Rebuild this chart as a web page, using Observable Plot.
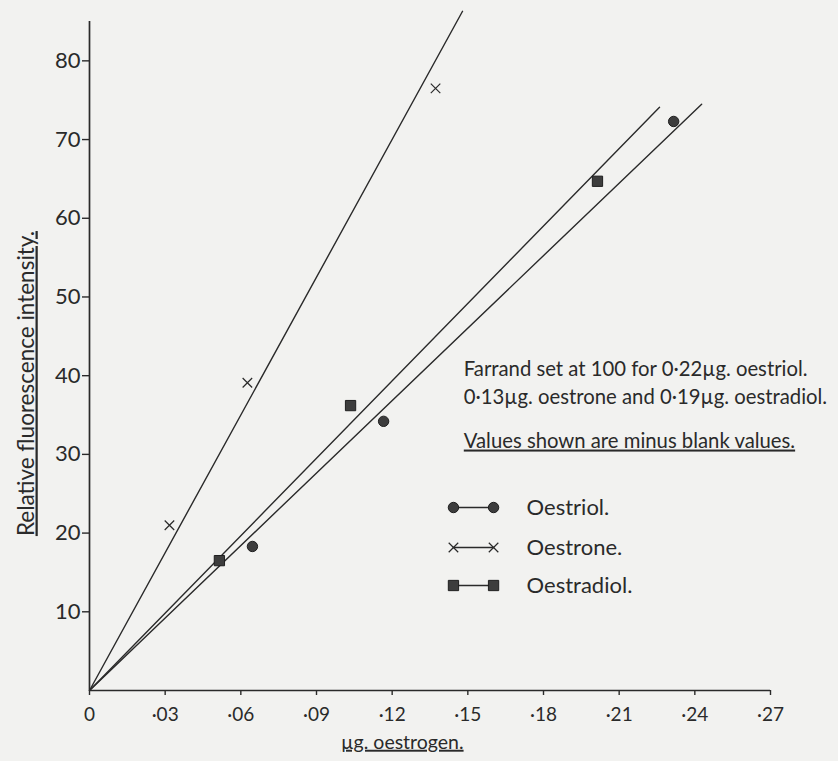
<!DOCTYPE html>
<html><head><meta charset="utf-8">
<script src="https://cdn.jsdelivr.net/npm/d3@7"></script>
<script src="https://cdn.jsdelivr.net/npm/@observablehq/plot@0.6"></script>
<style>
html,body{margin:0;padding:0;background:#f2f2f0;}
#chart svg{display:block;}
</style></head><body><div id="chart"></div>
<script>
// ---- data ----
const xTicks = [0, 0.03, 0.06, 0.09, 0.12, 0.15, 0.18, 0.21, 0.24, 0.27];
const yTicks = [10, 20, 30, 40, 50, 60, 70, 80];

const oestriolX = [0.0646, 0.1166, 0.2316];
const oestriolY = [18.3, 34.2, 72.3];
const oestroneX = [0.0317, 0.0626, 0.1372];
const oestroneY = [21.0, 39.1, 76.5];
const oestradiolX = [0.0515, 0.1035, 0.2014];
const oestradiolY = [16.5, 36.2, 64.7];

// fitted lines drawn from the origin to these end points
const lineEndX = [0.2427, 0.1479, 0.2260];
const lineEndY = [74.5, 86.3, 74.1];

const seriesNames = ["Oestriol.", "Oestrone.", "Oestradiol."];
const seriesSymbols = ["circle", "times", "square"];

const noteLines = [
  "Farrand set at 100 for 0·22µg. oestriol.",
  "0·13µg. oestrone and 0·19µg. oestradiol."
];
const noteUnderlined = "Values shown are minus blank values.";
const xLabel = "µg. oestrogen.";
const yLabel = "Relative fluorescence intensity.";

// ---- build tables ----
const pts = [];
[[oestriolX, oestriolY], [oestroneX, oestroneY], [oestradiolX, oestradiolY]].forEach(([xs, ys], s) => {
  xs.forEach((x, i) => pts.push({x, y: ys[i], s: seriesNames[s], sym: seriesSymbols[s]}));
});
const lines = [];
lineEndX.forEach((x, s) => {
  lines.push({x: 0, y: 0, s: seriesNames[s]});
  lines.push({x, y: lineEndY[s], s: seriesNames[s]});
});

const ink = "#2a2a2a";
const fmt = d => d === 0 ? "0" : "·" + String(Math.round(d * 100)).padStart(2, "0");

// legend layout (data-space)
const legX0 = 0.1443, legX1 = 0.1602, legTX = 0.1733;
const legRows = [23.25, 18.17, 13.34];
const legend = seriesNames.map((n, i) => ({n, sym: seriesSymbols[i], y: legRows[i]}));
const legendLines = legend.flatMap(d => [{x: legX0, y: d.y, n: d.n}, {x: legX1, y: d.y, n: d.n}]);

function dotMarks(data) {
  return [
    Plot.dot(data.filter(d => d.sym === "circle"), {x: "x", y: "y", symbol: "circle", r: 5.2, fill: "#3d3d3d", stroke: "#1f1f1f", strokeWidth: 1}),
    Plot.dot(data.filter(d => d.sym === "square"), {x: "x", y: "y", symbol: "square", r: 5.8, fill: "#3d3d3d", stroke: "#1f1f1f", strokeWidth: 1}),
    Plot.dot(data.filter(d => d.sym === "times"), {x: "x", y: "y", symbol: "times", r: 4.4, stroke: ink, strokeWidth: 1.2})
  ];
}

const plot = Plot.plot({
  width: 838, height: 761,
  marginLeft: 89, marginRight: 68, marginTop: 21, marginBottom: 71,
  style: {background: "transparent", fontFamily: "Lato, 'Noto Sans', sans-serif", color: ink},
  x: {domain: [0, 0.27]},
  y: {domain: [0, 85]},
  marks: [
    Plot.axisX({ticks: xTicks, tickFormat: fmt, tickSize: 5, tickPadding: 12, fontSize: 19, label: null, strokeWidth: 1.4}),
    Plot.axisY({ticks: yTicks, tickSize: 7, tickPadding: 2, fontSize: 22, label: null, strokeWidth: 1.4}),
    Plot.ruleX([0], {stroke: ink, strokeWidth: 1.7}),
    Plot.ruleY([0], {stroke: ink, strokeWidth: 1.7}),
    Plot.line(lines, {x: "x", y: "y", z: "s", stroke: ink, strokeWidth: 1.4}),
    ...dotMarks(pts),
    // legend
    Plot.line(legendLines, {x: "x", y: "y", z: "n", stroke: ink, strokeWidth: 1.4}),
    ...dotMarks(legend.flatMap(d => [{x: legX0, y: d.y, sym: d.sym}, {x: legX1, y: d.y, sym: d.sym}])),
    Plot.text(legend, {x: () => legTX, y: "y", text: "n", textAnchor: "start", lineAnchor: "middle", fontSize: 22, fill: ink}),
    // notes
    Plot.text(noteLines, {x: () => 0.1484, y: (d, i) => [40.0, 36.45][i], text: d => d, textAnchor: "start", lineAnchor: "bottom", fontSize: 20.3, fill: ink}),
    Plot.text([noteUnderlined], {x: () => 0.1484, y: () => 30.87, text: d => d, textAnchor: "start", lineAnchor: "bottom", fontSize: 20.3, fill: ink}),
    // axis titles
    Plot.text([xLabel], {x: () => 0.124, y: () => -7.4, text: d => d, textAnchor: "middle", lineAnchor: "bottom", fontSize: 19.5, fill: ink}),
    Plot.text([yLabel], {x: () => -0.0222, y: () => 39.0, text: d => d, rotate: -90, textAnchor: "middle", lineAnchor: "bottom", fontSize: 22.5, fill: ink})
  ]
});

const underlined = [noteUnderlined, xLabel, yLabel];
d3.select(plot).selectAll("text").filter(function() { return underlined.includes(this.textContent); })
  .style("text-decoration", "underline")
  .style("text-decoration-thickness", "2px");

document.getElementById("chart").appendChild(plot);
</script>
</body></html>
